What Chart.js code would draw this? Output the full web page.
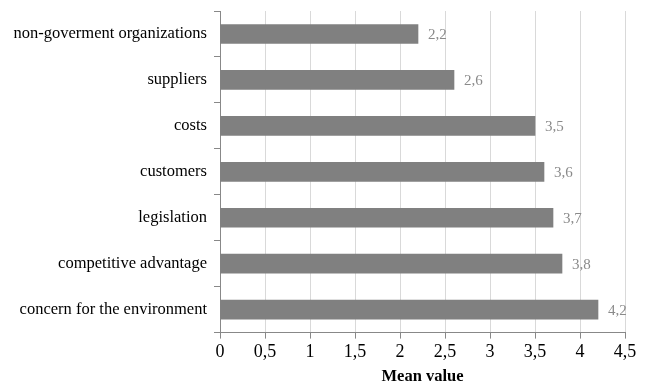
<!DOCTYPE html>
<html>
<head>
<meta charset="utf-8">
<script src="https://cdn.jsdelivr.net/npm/chart.js@4/dist/chart.umd.min.js"></script>
<style>
  html, body { margin: 0; padding: 0; background: #fff; }
  #wrap { width: 653px; height: 387px; }
</style>
</head>
<body>
<div id="wrap"><canvas id="meanChart" width="653" height="387"></canvas></div>
<script>
// Motives, listed top to bottom
const categories = [
    'non-goverment organizations',
    'suppliers',
    'costs',
    'customers',
    'legislation',
    'competitive advantage',
    'concern for the environment'
];
const meanValues = [2.2, 2.6, 3.5, 3.6, 3.7, 3.8, 4.2];
const xTicks = [0, 0.5, 1, 1.5, 2, 2.5, 3, 3.5, 4, 4.5];

const serif = '"Liberation Serif", "Times New Roman", serif';

function comma(v) {
    return String(v).replace('.', ',');
}

// Writes each bar's value just past its end
const valueLabels = {
    id: 'valueLabels',
    afterDatasetsDraw(chart) {
        const ctx = chart.ctx;
        const meta = chart.getDatasetMeta(0);
        ctx.save();
        ctx.font = '15px ' + serif;
        ctx.fillStyle = '#8a8a8a';
        ctx.textAlign = 'left';
        ctx.textBaseline = 'middle';
        meta.data.forEach((bar, i) => {
            ctx.fillText(comma(meanValues[i]), bar.x + 10, bar.y + 1);
        });
        ctx.restore();
    }
};

new Chart(document.getElementById('meanChart'), {
    type: 'bar',
    data: {
        labels: categories,
        datasets: [{
            data: meanValues,
            backgroundColor: '#808080',
            borderWidth: 0,
            barThickness: 19
        }]
    },
    options: {
        indexAxis: 'y',
        responsive: false,
        animation: false,
        layout: { padding: { top: 11, right: 28, left: 0, bottom: 0 } },
        plugins: {
            legend: { display: false },
            tooltip: { enabled: false }
        },
        scales: {
            x: {
                min: 0,
                max: 4.5,
                afterBuildTicks: axis => {
                    axis.ticks = xTicks.map(v => ({ value: v }));
                },
                ticks: {
                    color: '#000',
                    font: { family: serif, size: 18 },
                    padding: 3,
                    maxRotation: 0,
                    callback: v => comma(v)
                },
                grid: {
                    color: '#d9d9d9',
                    tickColor: '#888',
                    tickLength: 6
                },
                border: { color: '#888' },
                title: {
                    display: true,
                    text: 'Mean value',
                    color: '#000',
                    font: { family: serif, size: 16.5, weight: 'bold' },
                    padding: { top: 1, bottom: 0 }
                }
            },
            y: {
                afterFit: axis => {
                    axis.width = 220;
                    axis.paddingTop = 0;
                    axis.paddingBottom = 0;
                },
                ticks: {
                    color: '#000',
                    font: { family: serif, size: 16.5 },
                    padding: 7
                },
                grid: {
                    drawOnChartArea: false,
                    offset: true,
                    tickColor: '#888',
                    tickLength: 6
                },
                border: { color: '#888' }
            }
        }
    },
    plugins: [valueLabels]
});
</script>
</body>
</html>
